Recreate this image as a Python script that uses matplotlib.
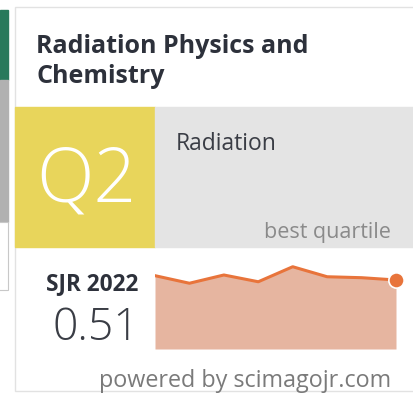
import matplotlib
matplotlib.use('Agg')
import matplotlib.pyplot as plt
from matplotlib.patches import Rectangle

# data read from the widget
years = [2015, 2016, 2017, 2018, 2019, 2020, 2021, 2022]
sjr = [0.542, 0.486, 0.547, 0.497, 0.608, 0.534, 0.527, 0.51]
journal = ['Radiation Physics and', 'Chemistry']
category = 'Radiation'
quartile = 'Q2'
sjr_label = 'SJR 2022'
sjr_value = '0.51'

plt.rcParams['font.family'] = ['Open Sans', 'DejaVu Sans']

W, H = 413, 401
fig = plt.figure(figsize=(W / 100, H / 100), dpi=100)
bg = fig.add_axes([0, 0, 1, 1])
bg.set_xlim(0, W)
bg.set_ylim(H, 0)
bg.axis('off')

# bits of the page left of the card
bg.add_patch(Rectangle((0, 10), 8, 70, color='#28795b'))
bg.add_patch(Rectangle((0, 80), 8, 142, color='#b1b1b1'))
bg.add_patch(Rectangle((-2, 222), 10, 68, facecolor='white', edgecolor='#c8c8c8', lw=0.8))

# card
bg.add_patch(Rectangle((15, 7), 400, 384, facecolor='white', edgecolor='#e2e2e2', lw=1.0))
for i, line in enumerate(journal):
    bg.text(36, 53 + i * 30, line, fontsize=18, fontweight='bold', color='#2d313b',
            va='baseline', ha='left')

# quartile block
bg.add_patch(Rectangle((15, 107), 140, 140, color='#e8d55b'))
bg.add_patch(Rectangle((155, 107), 258, 140, color='#e4e4e4'))
bg.text(86, 202, quartile, fontsize=54, fontweight='light', color='white',
        ha='center', va='baseline')
bg.text(176, 150, category, fontsize=16.5, color='#3a3d45', va='baseline')
bg.text(391, 238, 'best quartile', fontsize=15.5, color='#8a8a8a', ha='right', va='baseline')

# SJR
bg.text(138, 290, sjr_label, fontsize=16.3, fontweight='bold', color='#2d313b',
        ha='right', va='baseline')
bg.text(139, 340, sjr_value, fontsize=32, fontweight='light', color='#3a3d45',
        ha='right', va='baseline')
bg.text(391, 387, 'powered by scimagojr.com', fontsize=16.8, color='#7a7a7a',
        ha='right', va='baseline')

# sparkline
ax = fig.add_axes([155 / W, (H - 349) / H, (396 - 155) / W, 87 / H])
ax.fill_between(years, sjr, 0, color='#e6b5a0', lw=0)
ax.plot(years, sjr, color='#e8743b', lw=2.2, solid_joinstyle='round')
ax.plot(years[-1], sjr[-1], 'o', color='#e8743b', ms=11, mec='white', mew=1.2, clip_on=False)
ax.set_xlim(years[0], years[-1])
ax.set_ylim(0, 0.643)
ax.axis('off')

fig.savefig('out.png', dpi=100)
